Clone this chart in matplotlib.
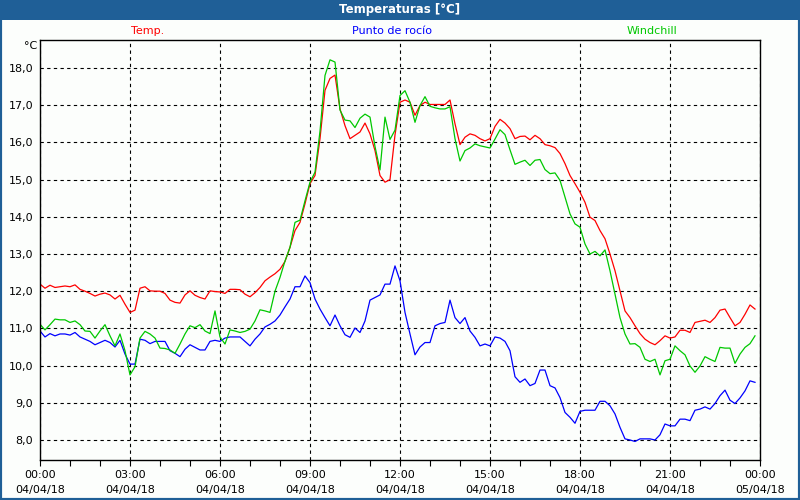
import numpy as np
import matplotlib
matplotlib.use("Agg")
import matplotlib.pyplot as plt
from matplotlib.patches import Rectangle
from matplotlib.ticker import MultipleLocator, FixedLocator

# readings every 10 minutes, 04/04/18 00:00 -> 23:50
temp = [12.19, 12.08, 12.16, 12.10, 12.12, 12.14, 12.12, 12.17, 12.05, 12.00, 11.94, 11.87,
        11.92, 11.95, 11.90, 11.79, 11.89, 11.65, 11.43, 11.49, 12.08, 12.12, 12.01, 12.00,
        12.00, 11.94, 11.76, 11.70, 11.68, 11.90, 12.01, 11.89, 11.83, 11.79, 12.01, 11.99,
        11.98, 11.94, 12.05, 12.05, 12.04, 11.92, 11.85, 11.96, 12.10, 12.28, 12.38, 12.47,
        12.59, 12.80, 13.18, 13.63, 13.85, 14.35, 14.89, 15.11, 16.10, 17.40, 17.72, 17.81,
        16.90, 16.45, 16.10, 16.19, 16.28, 16.52, 16.23, 15.78, 15.11, 14.93, 15.00, 16.20,
        17.08, 17.14, 17.08, 16.73, 16.99, 17.08, 17.02, 17.02, 17.02, 17.02, 17.14, 16.50,
        15.94, 16.14, 16.23, 16.19, 16.10, 16.04, 16.10, 16.43, 16.62, 16.52, 16.37, 16.10,
        16.16, 16.17, 16.07, 16.19, 16.10, 15.94, 15.91, 15.86, 15.70, 15.43, 15.11, 14.89,
        14.66, 14.39, 13.99, 13.90, 13.63, 13.41, 13.00, 12.55, 12.01, 11.47, 11.29, 11.07,
        10.86, 10.71, 10.62, 10.56, 10.67, 10.80, 10.74, 10.77, 10.95, 10.95, 10.89, 11.16,
        11.19, 11.22, 11.16, 11.29, 11.49, 11.52, 11.29, 11.07, 11.16, 11.38, 11.63, 11.52]

dew_point = [10.93, 10.77, 10.86, 10.80, 10.85, 10.85, 10.82, 10.89, 10.77, 10.71, 10.65, 10.56,
             10.62, 10.68, 10.62, 10.50, 10.68, 10.31, 10.04, 10.04, 10.71, 10.68, 10.59, 10.65,
             10.65, 10.65, 10.40, 10.33, 10.24, 10.44, 10.56, 10.49, 10.42, 10.42, 10.65, 10.68,
             10.65, 10.74, 10.77, 10.77, 10.77, 10.65, 10.53, 10.71, 10.85, 11.04, 11.11, 11.20,
             11.36, 11.58, 11.79, 12.12, 12.12, 12.41, 12.23, 11.79, 11.52, 11.29, 11.07, 11.36,
             11.07, 10.83, 10.76, 11.01, 10.89, 11.20, 11.76, 11.83, 11.90, 12.19, 12.19, 12.68,
             12.28, 11.43, 10.85, 10.29, 10.50, 10.62, 10.62, 11.07, 11.13, 11.16, 11.76, 11.29,
             11.13, 11.29, 10.93, 10.76, 10.53, 10.58, 10.53, 10.77, 10.74, 10.65, 10.40, 9.70,
             9.55, 9.64, 9.46, 9.52, 9.88, 9.88, 9.46, 9.40, 9.14, 8.74, 8.61, 8.45,
             8.77, 8.80, 8.80, 8.80, 9.04, 9.04, 8.92, 8.70, 8.34, 8.03, 8.00, 7.96,
             8.03, 8.03, 8.03, 8.00, 8.14, 8.43, 8.38, 8.38, 8.56, 8.56, 8.52, 8.80,
             8.83, 8.89, 8.83, 8.98, 9.19, 9.34, 9.07, 8.98, 9.13, 9.32, 9.59, 9.55]

windchill = [11.11, 10.96, 11.10, 11.25, 11.23, 11.23, 11.16, 11.20, 11.10, 10.93, 10.92, 10.74,
             10.93, 11.10, 10.80, 10.53, 10.85, 10.40, 9.75, 9.97, 10.74, 10.92, 10.85, 10.74,
             10.47, 10.46, 10.42, 10.33, 10.58, 10.85, 11.07, 11.02, 11.10, 10.93, 10.86, 11.47,
             10.77, 10.58, 10.96, 10.93, 10.89, 10.92, 10.98, 11.20, 11.50, 11.47, 11.43, 12.00,
             12.37, 12.81, 13.18, 13.85, 13.91, 14.43, 14.93, 15.20, 16.30, 17.80, 18.22, 18.16,
             16.87, 16.60, 16.58, 16.40, 16.65, 16.76, 16.68, 15.89, 15.26, 16.68, 16.08, 16.33,
             17.26, 17.39, 17.08, 16.54, 16.99, 17.23, 16.97, 16.93, 16.90, 16.90, 16.96, 16.10,
             15.50, 15.78, 15.85, 15.96, 15.91, 15.88, 15.85, 16.09, 16.34, 16.21, 15.80, 15.41,
             15.47, 15.52, 15.38, 15.52, 15.54, 15.27, 15.16, 15.18, 14.98, 14.53, 14.08, 13.81,
             13.72, 13.27, 13.00, 13.07, 12.95, 13.11, 12.55, 11.92, 11.29, 10.85, 10.58, 10.59,
             10.49, 10.17, 10.11, 10.17, 9.75, 10.13, 10.17, 10.53, 10.40, 10.29, 9.99, 9.82,
             9.99, 10.24, 10.17, 10.11, 10.49, 10.47, 10.47, 10.06, 10.31, 10.49, 10.59, 10.80]

x_labels = ["00:00\n04/04/18", "03:00\n04/04/18", "06:00\n04/04/18", "09:00\n04/04/18",
            "12:00\n04/04/18", "15:00\n04/04/18", "18:00\n04/04/18", "21:00\n04/04/18",
            "00:00\n05/04/18"]
y_ticks = [8, 9, 10, 11, 12, 13, 14, 15, 16, 17, 18]

hours = np.arange(len(temp)) / 6.0

BG = "#fcfefc"
FRAME = "#1f5f97"

fig = plt.figure(figsize=(8, 5), dpi=100, facecolor=BG)
# window frame and title bar
fig.patches.append(Rectangle((0, 0), 1, 1, transform=fig.transFigure, fill=False,
                             edgecolor=FRAME, linewidth=3, zorder=0))
fig.patches.append(Rectangle((0, 0.96), 1, 0.04, transform=fig.transFigure,
                             facecolor=FRAME, edgecolor="none", zorder=1))
fig.text(0.5, 0.98, "Temperaturas [°C]", color="white", fontsize=8.5,
         fontweight="bold", ha="center", va="center")

fig.text(0.185, 0.938, "Temp.", color="#ff0000", fontsize=8, ha="center", va="center")
fig.text(0.49, 0.938, "Punto de rocío", color="#0000ff", fontsize=8, ha="center", va="center")
fig.text(0.815, 0.938, "Windchill", color="#00c800", fontsize=8, ha="center", va="center")
fig.text(0.047, 0.908, "°C", color="black", fontsize=8, ha="right", va="center")

ax = fig.add_axes([0.05, 0.08, 0.90, 0.84])
ax.set_facecolor(BG)

ax.plot(hours, temp, color="#ff0000", lw=0.9)
ax.plot(hours, dew_point, color="#0000ff", lw=0.9)
ax.plot(hours, windchill, color="#00c800", lw=0.9)

ax.set_xlim(0, 24)
ax.set_ylim(7.462, 18.753)

ax.xaxis.set_major_locator(FixedLocator(np.arange(0, 25, 3)))
ax.xaxis.set_minor_locator(MultipleLocator(1))
ax.set_xticklabels(x_labels)
ax.set_yticks(y_ticks)
ax.set_yticklabels([f"{v:.1f}".replace(".", ",") for v in y_ticks])

ax.tick_params(axis="x", which="both", length=4, width=0.8, direction="out",
               labelsize=8, pad=3)
ax.tick_params(axis="y", length=0, labelsize=8, pad=5)
for lab in ax.get_xticklabels():
    lab.set_linespacing(1.6)

ax.grid(True, which="major", color="black", linestyle=(0, (3, 3)), linewidth=0.8)
for s in ax.spines.values():
    s.set_color("black")
    s.set_linewidth(1.0)

fig.savefig("out.png", dpi=100, facecolor=BG)
